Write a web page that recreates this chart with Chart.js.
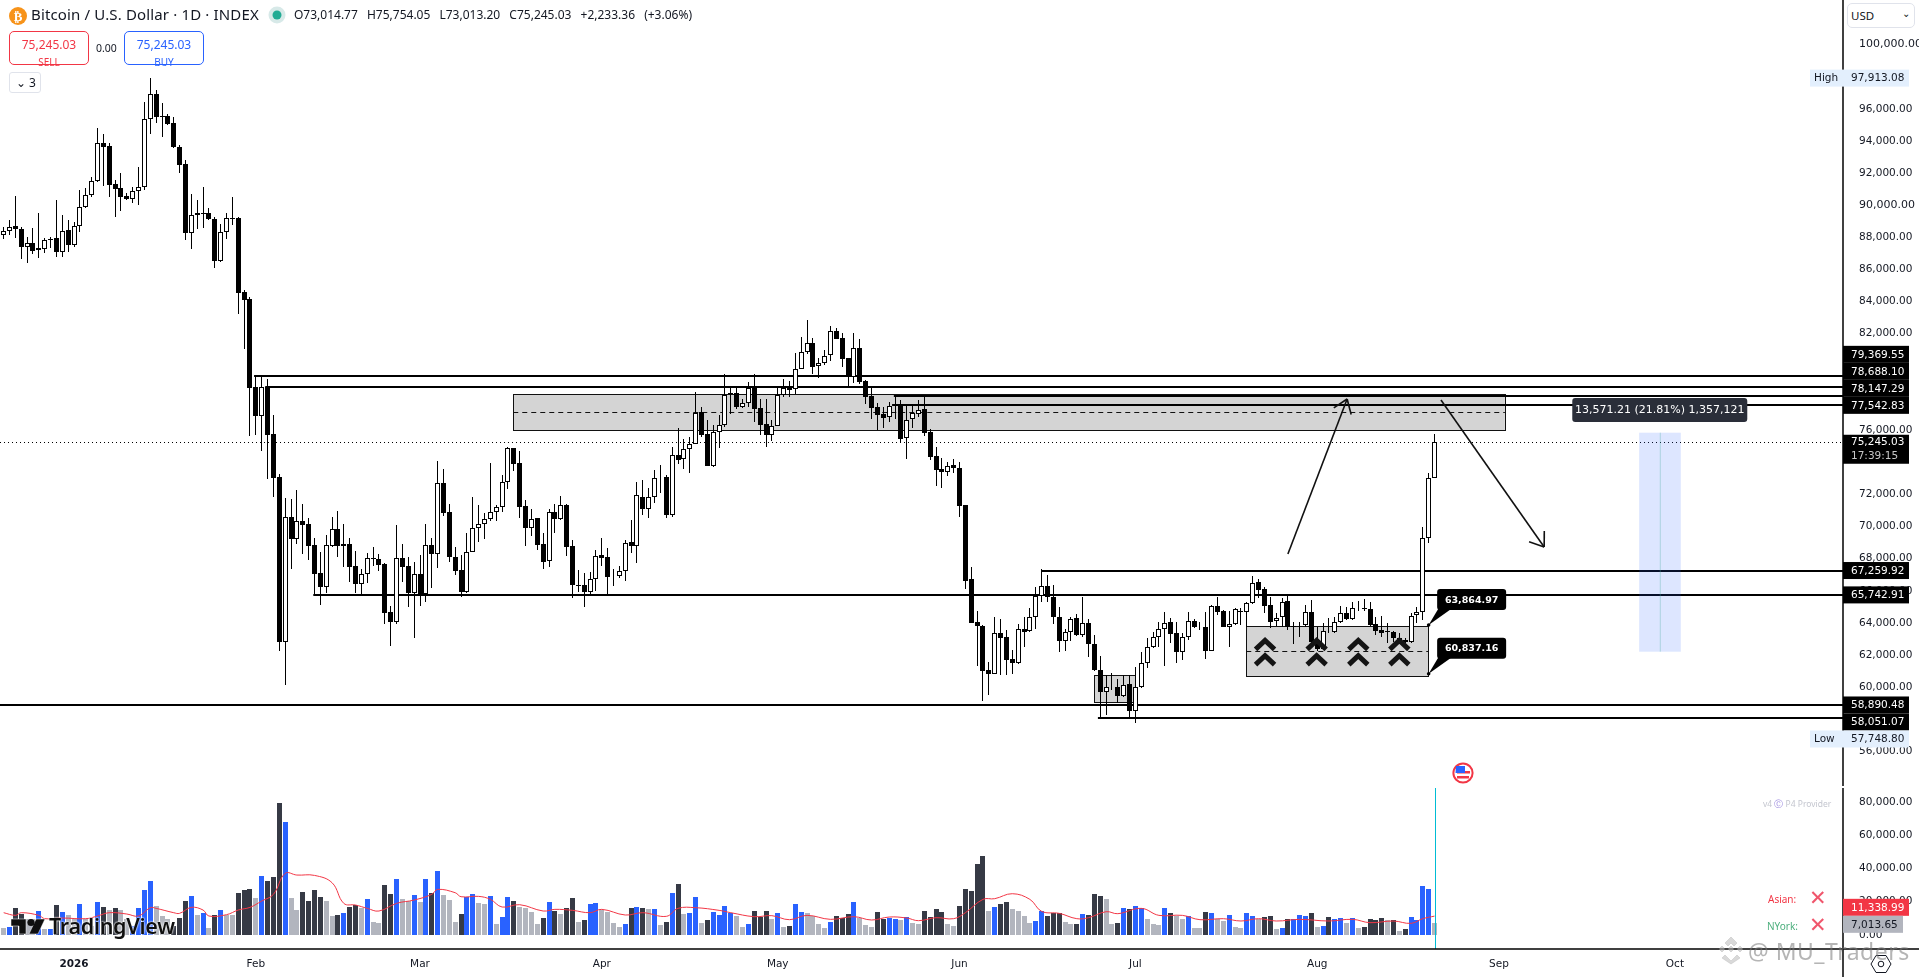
<!DOCTYPE html>
<html>
<head>
<meta charset="utf-8">
<title>Bitcoin / U.S. Dollar 1D</title>
<script src="https://cdn.jsdelivr.net/npm/chart.js@4"></script>
<style>
  html, body { margin: 0; padding: 0; background: #fff; overflow: hidden; }
  #wrap { position: relative; width: 1919px; height: 977px; font-family: "Noto Sans", sans-serif; color: #131722; }
  canvas { position: absolute; left: 0; top: 0; }
  .t { position: absolute; white-space: nowrap; line-height: 1; }
  .btn { position: absolute; box-sizing: border-box; border-radius: 5px; background: #fff; text-align: center; }
  .btn b { display: block; font-weight: 400; font-size: 12px; margin-top: 4px; }
  .btn i { display: block; font-style: normal; font-size: 10px; margin-top: 2px; }
</style>
</head>
<body>
<div id="wrap">
  <canvas id="c" width="1919" height="977"></canvas>

  <svg style="position:absolute;left:8px;top:6px" width="20" height="20"><circle cx="10" cy="10" r="9" fill="#f7931a"/><text x="10" y="14.5" font-size="13" font-weight="700" text-anchor="middle" fill="#fff" font-family="DejaVu Sans">₿</text></svg>
  <div class="t" style="left:31px;top:7px;font-size:15px;letter-spacing:.15px">Bitcoin / U.S. Dollar · 1D · INDEX</div>
  <svg style="position:absolute;left:268px;top:6px" width="18" height="18"><circle cx="9" cy="9" r="8.5" fill="#d7e9e8"/><circle cx="9" cy="9" r="4.5" fill="#22ab94"/></svg>
  <div class="t" style="left:294px;top:9px;font-size:12px;word-spacing:6px">O73,014.77 H75,754.05 L73,013.20 C75,245.03 +2,233.36 (+3.06%)</div>

  <div class="btn" style="left:9px;top:31px;width:80px;height:34px;border:1px solid #f23645;color:#f23645"><b>75,245.03</b><i>SELL</i></div>
  <div class="t" style="left:96px;top:43px;font-size:10.5px">0.00</div>
  <div class="btn" style="left:124px;top:31px;width:80px;height:34px;border:1px solid #2962ff;color:#2962ff"><b>75,245.03</b><i>BUY</i></div>
  <div class="btn" style="left:9px;top:72px;width:32px;height:21px;border:1px solid #e0e3eb;border-radius:3px;font-size:12px;line-height:20px;text-align:left;padding-left:6px">⌄&nbsp;3</div>

  <div class="btn" style="left:1847px;top:3px;width:68px;height:25px;border:1px solid #e0e3eb;font-size:11.5px;line-height:23px;text-align:left;padding-left:3px;color:#131722;z-index:2">USD<span style="position:absolute;right:4px;top:-2px;font-size:10px">⌄</span></div>

  <svg style="position:absolute;left:11px;top:918px;z-index:2" width="36" height="17"><path d="M0 1h15v15H8V8H0zM18 16l7-15h9l-7 15z" fill="#0f0f0f" stroke="#fff" stroke-width="0.5"/><circle cx="20" cy="4.5" r="3.6" fill="#0f0f0f"/></svg>
  <div class="t" style="left:49px;top:915px;font-size:21.5px;font-weight:600;letter-spacing:-0.3px;color:#0f0f0f;text-shadow:0 0 2px #fff,0 0 2px #fff;z-index:2">TradingView</div>

  <div class="t" style="left:1763px;top:800px;font-size:8.5px;color:#c4c6cf">v4 <span style="color:#9b8ade">Ⓒ</span> P4 Provider</div>
  <div class="t" style="left:1768px;top:894px;font-size:10px;color:#f23645">Asian:</div>
  <div class="t" style="left:1767px;top:921px;font-size:10px;color:#4caf7d">NYork:</div>
  <div class="t" style="left:1809px;top:888px;font-size:21px;font-weight:700;color:#f0566c;font-family:'DejaVu Sans'">✕</div>
  <div class="t" style="left:1809px;top:915px;font-size:21px;font-weight:700;color:#f0566c;font-family:'DejaVu Sans'">✕</div>

  <svg style="position:absolute;left:1452px;top:762px" width="24" height="24"><circle cx="11" cy="11" r="9.6" fill="#fff" stroke="#f23645" stroke-width="2"/><rect x="5" y="9" width="13" height="2.5" fill="#f23645"/><rect x="5" y="14" width="12" height="2.5" fill="#f23645"/><path d="M4 4h9v7H3.5z" fill="#2962ff"/></svg>
  <svg style="position:absolute;left:1870px;top:952px;z-index:2" width="24" height="24"><path d="M6 3.5h10l5 8.5-5 8.5H6L1 12z" fill="#fff" stroke="#131722" stroke-width="1"/><circle cx="11" cy="12" r="2.8" fill="none" stroke="#131722"/></svg>

  <svg style="position:absolute;left:1716px;top:935px;z-index:3;opacity:.55" width="30" height="30"><path d="M15 2l6 6-3 3-3-3-3 3-3-3zM6 11l3 3-3 3-3-3zM24 11l3 3-3 3-3-3zM15 11l3 3-3 3-3-3zM9 20l6 6 6-6 3 3-9 6-9-6z" fill="#bbb" stroke="#888" stroke-width="0.5"/></svg>
  <div class="t" style="left:1748px;top:940px;font-size:23px;color:rgba(120,120,120,.55);z-index:3;letter-spacing:.5px">@ MU_Traders</div>
</div>

<script>
// bar index 12 = 1 Jan 2026, last bar = 21 Aug 2026
const monthBars = [12, 43, 71, 102, 132, 163, 193, 224, 255, 285];
const monthLabels = ['2026', 'Feb', 'Mar', 'Apr', 'May', 'Jun', 'Jul', 'Aug', 'Sep', 'Oct'];
const priceTicks = [100000, 96000, 94000, 92000, 90000, 88000, 86000, 84000, 82000, 76000, 72000, 70000, 68000, 66000, 64000, 62000, 60000, 56000];
const volumeTicks = [0, 20000, 40000, 60000, 80000];

const candleOpen = [
  88125,88375,88685,88540,87420,87630,87190,87295,87855,87940,
  87110,88455,87525,88725,89910,90615,91490,93850,93685,91320,
  91050,90575,90410,90905,91155,95345,96905,95560,95555,95100,
  93625,92565,88290,89370,89515,89495,89140,86550,88310,89205,
  89205,84600,84140,78685,76900,78685,75740,73060,62830,70570,
  69245,70320,70155,68830,67085,66215,68810,69825,68890,68890,
  67540,66440,67025,67980,67955,67645,64655,64075,68020,67520,
  65880,67025,65800,68830,68310,72690,70880,68100,67270,65945,
  68435,69930,70175,70490,70925,71195,72790,74865,73930,71255,
  69930,70510,68890,67875,70880,70490,71320,68765,66360,66340,
  65945,66755,68205,68080,66900,66940,67250,69015,68810,71860,
  71070,71815,73050,73060,70740,74430,74180,74805,75155,77105,
  75760,73785,75860,76340,78290,78290,77460,77670,78665,77380,
  76360,75695,76280,78205,78665,78540,79825,80885,81400,80010,
  80200,80655,82150,81715,80470,79285,81090,79035,78100,77420,
  76980,76800,77565,77545,75490,76670,77025,77295,75860,74390,
  73560,73370,73810,73620,71320,66710,64035,63805,61045,60840,
  63350,63100,61730,61480,63600,63515,64390,65695,66275,65590,
  64390,62895,63455,64285,63225,63970,62665,61065,59720,59990,
  59990,59470,60175,58535,59990,61480,62520,63100,63600,64035,
  63350,62210,63140,64140,63765,63725,62270,65050,64720,63765,
  63910,64760,64700,65220,66525,66090,65115,64120,64345,65360,
  63725,63950,63870,64700,62935,62355,63840,63450,64075,64595,
  64220,64905,64925,64865,63910,63535,63490,63450,63080,62935,
  62830,64490,64700,69305,73014.77
];
const candleHigh = [
  88665,89080,90575,88665,88000,88560,89495,87940,88000,90325,
  89390,89080,88975,90950,91050,91780,94785,94415,93850,91570,
  91985,90780,91155,92400,96445,97913.08,97170,96340,95660,95515,
  93730,92815,90700,90325,91155,89805,89245,88830,89495,90530,
  89285,84700,84300,79370,79370,79160,76940,73270,71775,71710,
  72270,71400,70510,69265,68435,69470,70590,70965,70155,69285,
  68475,67335,68330,68725,68290,67710,65050,70095,68910,68120,
  67810,68205,70155,69305,74055,73580,71380,68745,68205,69615,
  71835,71340,70820,73930,71340,73205,74930,74900,74700,71650,
  71090,70510,69595,71090,71400,71900,71400,69160,67290,67085,
  67190,68535,69265,68640,67335,67540,69160,70405,72750,72895,
  72375,73520,73830,73205,74930,76110,75425,75590,78350,77420,
  76630,76320,76940,79475,78600,78640,77915,78975,79475,77960,
  77935,76630,78665,79160,79035,80780,81820,82855,81755,80470,
  80990,82480,82355,82025,80470,82025,81650,79120,78665,77670,
  77420,77770,78185,77875,77500,77500,77875,78040,76050,74970,
  74285,74035,74180,73995,71330,67500,64740,63870,61565,64390,
  64240,63560,62310,63930,64390,64905,66255,67335,66980,66360,
  65010,63600,64390,64555,65590,64240,63245,61940,60755,60860,
  60485,60755,60755,61275,62165,63040,63455,64075,64660,64285,
  64075,63350,64660,64220,64075,64660,65115,65590,64800,64740,
  64905,64905,65320,66940,66730,66255,65630,64595,65530,65675,
  64075,64075,65115,65425,63765,63970,64285,64385,65050,64970,
  65320,65385,65465,65320,64385,64430,63970,63515,63390,63040,
  64595,65010,69990,73350,75754.05
];
const candleLow = [
  87875,88145,87940,86630,86380,86965,86695,87005,87315,86800,
  86800,87110,87420,88355,89805,90535,91465,91195,90530,89290,
  89660,90325,90160,90035,90950,94435,95140,94270,94995,93585,
  91985,87835,87255,88500,88560,89080,86070,86485,87875,88770,
  83230,81050,75635,75700,74720,72960,71860,62270,60135,67355,
  68910,68290,67915,65735,65115,65840,68705,68120,67500,66565,
  65840,65735,66460,67560,67230,63930,62580,63930,66565,65010,
  63080,65050,65320,66150,67440,70655,67810,66980,65630,65880,
  68435,69055,69220,70365,70365,70905,72335,73455,70530,68785,
  69430,68540,67355,67500,69575,70405,68165,65570,65925,65010,
  65800,66005,67540,65735,66295,66815,66630,68370,67710,70715,
  70510,71440,72065,70550,70610,73890,73560,73350,75135,75550,
  73765,73725,74865,76215,77005,77315,77355,77420,76525,75695,
  74970,75325,76255,78080,78080,78225,79825,80740,79495,79265,
  80055,80325,81650,79950,78745,78955,78870,77625,76670,76010,
  76110,76485,76670,75280,74225,76110,76835,75635,74140,72520,
  72395,73145,73310,70610,66130,64010,61315,59135,59510,60800,
  60755,60755,60820,61440,62520,63410,63620,65320,65320,63910,
  62210,62270,62895,63185,63140,61900,61025,58100,58265,59820,
  58995,59410,58060,57748.8,59930,61215,62420,62520,61340,62730,
  61525,61690,62935,63660,63560,61750,62250,64490,63725,62520,
  63870,63870,63765,65180,65570,64595,63700,63805,63765,63555,
  62685,63140,63765,62730,62270,62315,63350,63390,64015,64180,
  64180,64760,64760,63805,63245,63140,62730,62830,62730,62730,
  62770,63970,64180,68950,73013.2
];
const candleClose = [
  88375,88665,88540,87420,87630,87170,87315,87815,87895,87110,
  88415,87525,88725,89910,90615,91490,93850,93645,91260,91030,
  90530,90410,90865,91155,95345,96905,95510,95490,95055,93645,
  92525,88290,89370,89495,89475,89120,86550,88310,89185,89165,
  84560,84100,78640,76900,78685,75700,73040,62830,70570,69245,
  70320,70115,68810,67045,66255,68830,69825,68810,68810,67500,
  66440,67025,68020,68060,67605,64635,64075,68020,67500,65880,
  67025,65800,68830,68310,72690,70860,68120,67250,65945,68435,
  69930,70175,70490,70925,71195,72790,74865,73910,71235,69930,
  70490,68850,67810,70880,70490,71320,68745,66360,66270,65945,
  66710,68185,68060,66880,66920,67250,68995,68810,71940,71070,
  71815,73000,72990,70740,74430,74160,74805,75155,77085,75715,
  73785,75860,76340,78205,78225,77440,77670,78640,77335,76320,
  75695,76280,78205,78640,78500,79825,80885,81400,79950,80160,
  80635,82150,81695,80450,79285,81090,79015,78080,77400,76960,
  76775,77525,77500,75470,76650,77045,77275,75840,74350,73540,
  73370,73785,73620,71295,66630,64015,63825,61025,60840,63350,
  63080,61690,61480,63600,63455,64390,65695,66275,65590,64390,
  62895,63455,64220,63225,63970,62665,61045,59720,60030,60010,
  59470,60155,58535,59990,61480,62520,63100,63600,64015,63330,
  62210,63140,64140,63765,63745,62270,65050,64700,63765,63910,
  64845,64700,65220,66505,66050,65070,64035,64325,65320,63725,
  63830,63910,64700,62830,62355,63515,63900,64075,64595,64220,
  64905,64925,64885,63870,63515,63390,63450,63040,62830,62830,
  64450,64700,69305,73000,75245.03
];

const volumes = [
  4000,5000,16000,12400,9400,9400,14200,3400,3400,17800,
  13600,11800,9400,18400,9400,5400,19600,16600,14800,16000,
  14800,9400,5400,16000,26800,32200,17200,11200,9400,5200,
  10000,20200,23200,11800,13000,4000,11800,14800,11800,11800,
  25000,26800,27400,22000,35200,32200,34600,79000,67600,22000,
  14800,25600,20200,26800,22600,20200,11200,11800,13000,16600,
  17800,16000,21400,7600,7000,29800,24400,33400,21400,20200,
  23800,19600,33400,25000,38200,23800,20800,7600,12400,22600,
  24400,19000,18400,23200,6400,10600,22600,20200,16600,16000,
  13600,6400,10000,19600,14200,12400,16000,22000,7600,8800,
  18400,19000,14800,13600,7000,4600,6400,16000,16600,16000,
  15400,15400,5800,7600,25000,30400,12400,13000,22600,7000,
  8800,13600,11800,17200,13000,11200,4600,6400,14200,10600,
  14200,9400,13000,4600,5200,18400,13600,13000,11200,6400,
  4000,7600,11200,10000,12400,19600,10000,5800,4600,13600,
  9400,10000,9400,8800,10600,7000,6400,14200,10600,15400,
  13600,6400,5200,17200,27400,26200,42400,47200,14200,16600,
  18400,19600,15400,14200,11200,7000,8200,14200,11200,13000,
  13000,7600,6400,6400,12400,11800,24400,23200,21400,6400,
  7000,16000,15400,17200,16000,9400,6400,5800,16000,13000,
  11200,9400,11200,4000,4000,13600,13000,9400,8200,11800,
  4600,4000,13000,11200,9400,10600,11200,3400,4000,9400,
  9400,11800,11200,13000,4600,5200,10600,9400,10000,7000,
  10000,4000,4600,9400,8800,10000,8800,8800,2200,3400,
  10600,8800,29200,27400,7013.65
];
// d = heavy down, b = heavy up, g = quiet day
const volumeKinds = (
  'gbddggbgbd' + 'bggbggbdgd' + 'ggbbbbgggd' + 'ddbgbgdbgg' + 'dddgbdddbg' +
  'gddddggdbd' + 'dgbggddbgg' + 'bgbdbgggdb' + 'bggbgbbdgg' + 'ggdbdgddgd' +
  'bbggggbdbd' + 'gbgdbdgbbg' + 'dbbbbggbdd' + 'dgbgdbbggg' + 'gbdddbgggd' +
  'dbbgbggddd' + 'dggdddddgb' + 'ddggggbbdd' + 'dggdbdddgg' + 'dbdbbgggbd' +
  'ggbggdbggb' + 'ggbbgddgbd' + 'bbbdgbdbbg' + 'bgddddgdgd' + 'bbbbg'
).split('');

const maBars = [0,2,3,6,7,10,14,16,18,21,23,25,26,29,30,32,34,35,38,40,42,44,46,48,50,53,56,58,60,62,64,67,70,73,74,77,78,81,83,85,88,92,94,97,100,102,106,109,113,115,118,122,124,128,131,134,137,141,145,148,151,154,156,159,162,164,167,169,172,175,177,180,183,185,188,190,194,197,201,204,208,211,214,217,221,226,230,233,237,240,242,244];
const maValues = [13400,11800,13400,11800,9800,10200,9800,11400,13400,12600,11400,16400,16000,13400,13000,16600,15000,11400,12200,15000,16600,20400,24400,37000,36000,35800,31400,19000,18000,16000,14400,19000,21000,24400,27400,25400,23000,23200,21400,16800,18200,14400,15400,14800,13400,15400,12000,13400,11200,16000,16400,14800,13400,11000,11600,9200,11800,9400,11000,9000,10800,10200,8600,10400,9800,13400,21400,21800,24800,21400,14200,13000,9800,10400,14000,12800,16000,11800,11800,9200,9800,8400,9800,8400,9400,8400,9400,7400,8400,7000,9800,11338.99];

// drawing tools on the chart
const levelPrices = [79369.55, 78688.10, 78147.29, 77542.83, 67259.92, 65742.91, 58890.48, 58051.07];
const levelStartBars = [42.7, 44.6, 151.8, 151.5, 176.9, 52.8, -1, 186.6];
const zoneLeft = [86.9, 186, 211.9];
const zoneRight = [256, 193, 242.9];
const zoneTop = [78228, 60735, 63786];
const zoneBottom = [75987, 59034, 60694];
const zoneMid = [77107, null, 62250];
const chevronBars = [215.1, 223.9, 231, 238];
const chevronPrices = [63100, 62146];
const arrowFrom = [[219, 68289], [245.1, 77875]];
const arrowTo = [[229.1, 77938], [262.7, 68725]];
const measureBars = [278.9, 282.5, 286];
const measurePrices = [75840, 62207];
const tagPrices = [63864.97, 60837.16];
const lastBar = 244;
const lastPrice = 75245.03;
const lastVolume = 7013.65;
const lastMa = 11338.99;
const highPrice = 97913.08;
const lowPrice = 57748.80;

const money = v => v.toLocaleString('en-US', { minimumFractionDigits: 2, maximumFractionDigits: 2 });
const bars = candleOpen.map((_, i) => i);
const AXIS_FONT = '10.5px "DejaVu Sans"';

function line(ctx, x1, y1, x2, y2) {
  ctx.beginPath();
  ctx.moveTo(x1, y1);
  ctx.lineTo(x2, y2);
  ctx.stroke();
}

function priceBadge(ctx, text, y, bg, fg, right) {
  ctx.fillStyle = bg;
  ctx.fillRect(1843, y - 8.5, (right || 1909) - 1843, 17);
  ctx.fillStyle = fg;
  ctx.font = AXIS_FONT;
  ctx.textAlign = 'left';
  ctx.textBaseline = 'middle';
  ctx.fillText(text, 1851, y + 0.5);
}

// keep axes from reserving room for half a tick label
function noPadding(axis) {
  axis.paddingTop = 0;
  axis.paddingBottom = 0;
  axis.paddingLeft = 0;
  axis.paddingRight = 0;
}

// snap bars to whole pixels so wicks and bodies stay sharp
const crispBars = {
  id: 'crispBars',
  beforeDatasetsDraw(chart) {
    chart.data.datasets.forEach((ds, i) => {
      if (ds.type === 'line') return;
      chart.getDatasetMeta(i).data.forEach(el => {
        el.x = Math.floor(el.x) + 0.5;
        el.y = Math.round(el.y);
        el.base = Math.round(el.base);
      });
    });
  }
};

const underCandles = {
  id: 'underCandles',
  beforeDatasetsDraw(chart) {
    const { ctx, scales } = chart;
    const px = v => scales.x.getPixelForValue(v);
    const py = v => scales.y.getPixelForValue(v);
    ctx.save();

    zoneTop.forEach((top, i) => {
      const x = px(zoneLeft[i]), w = px(zoneRight[i]) - x;
      ctx.fillStyle = '#d4d4d4';
      ctx.fillRect(x, py(top), w, py(zoneBottom[i]) - py(top));
      ctx.strokeStyle = '#111';
      ctx.lineWidth = 1;
      ctx.strokeRect(Math.round(x) + 0.5, Math.round(py(top)) + 0.5, Math.round(w), Math.round(py(zoneBottom[i]) - py(top)));
      if (zoneMid[i]) {
        ctx.setLineDash([5, 4]);
        line(ctx, x, Math.round(py(zoneMid[i])) + 0.5, x + w, Math.round(py(zoneMid[i])) + 0.5);
        ctx.setLineDash([]);
      }
    });

    ctx.strokeStyle = '#000';
    ctx.lineWidth = 2;
    levelPrices.forEach((p, i) => {
      const y = Math.round(py(p));
      line(ctx, Math.max(px(levelStartBars[i]), 0), y, 1843, y);
    });

    ctx.lineWidth = 1;
    ctx.setLineDash([1, 3]);
    const ly = Math.round(py(lastPrice)) + 0.5;
    line(ctx, 0, ly, 1843, ly);
    ctx.setLineDash([]);

    const mx = px(measureBars[0]), mw = px(measureBars[2]) - mx;
    ctx.fillStyle = 'rgba(41,98,255,0.16)';
    ctx.fillRect(mx, py(measurePrices[0]), mw, py(measurePrices[1]) - py(measurePrices[0]));
    ctx.strokeStyle = 'rgba(76,175,160,0.35)';
    line(ctx, px(measureBars[1]), py(measurePrices[0]), px(measureBars[1]), py(measurePrices[1]));
    ctx.restore();
  }
};

const overCandles = {
  id: 'overCandles',
  afterDatasetsDraw(chart) {
    const { ctx, scales } = chart;
    const px = v => scales.x.getPixelForValue(v);
    const py = v => scales.y.getPixelForValue(v);
    const vy = v => scales.yVol.getPixelForValue(v);
    ctx.save();

    // double chevrons in the lower zone
    ctx.strokeStyle = '#141414';
    ctx.lineWidth = 5;
    ctx.lineJoin = 'miter';
    chevronBars.forEach(b => {
      chevronPrices.forEach(p => {
        const x = px(b), y = py(p);
        ctx.beginPath();
        ctx.moveTo(x - 9.5, y + 12);
        ctx.lineTo(x, y + 3);
        ctx.lineTo(x + 9.5, y + 12);
        ctx.stroke();
      });
    });

    // projected path arrows
    ctx.strokeStyle = '#111';
    ctx.lineWidth = 1.6;
    arrowFrom.forEach((from, i) => {
      const x1 = px(from[0]), y1 = py(from[1]), x2 = px(arrowTo[i][0]), y2 = py(arrowTo[i][1]);
      line(ctx, x1, y1, x2, y2);
      const a = Math.atan2(y2 - y1, x2 - x1);
      [-0.62, 0.62].forEach(d => line(ctx, x2, y2, x2 - 16 * Math.cos(a + d), y2 - 16 * Math.sin(a + d)));
    });

    // price tags on the zone corners
    tagPrices.forEach(p => {
      const ax = px(lastBar - 1), ay = py(p);
      const x = ax + 8.5, y = ay - 36, w = 69, h = 21;
      ctx.fillStyle = '#000';
      ctx.beginPath();
      ctx.roundRect(x, y, w, h, 3);
      ctx.fill();
      ctx.beginPath();
      ctx.moveTo(x + 1, y + h - 1);
      ctx.lineTo(x + 14, y + h - 1);
      ctx.lineTo(ax, ay);
      ctx.closePath();
      ctx.fill();
      ctx.beginPath();
      ctx.arc(ax, ay, 1.8, 0, Math.PI * 2);
      ctx.fill();
      ctx.fillStyle = '#fff';
      ctx.font = 'bold 9.5px "DejaVu Sans"';
      ctx.textAlign = 'center';
      ctx.textBaseline = 'middle';
      ctx.fillText(money(p), x + w / 2, y + h / 2 + 0.5);
    });

    // measure label
    const cx = px(measureBars[1]);
    ctx.fillStyle = '#2a2e39';
    ctx.beginPath();
    ctx.roundRect(cx - 88, 398, 175, 24, 3);
    ctx.fill();
    ctx.fillStyle = '#fff';
    ctx.font = '11px "DejaVu Sans"';
    ctx.textAlign = 'center';
    ctx.textBaseline = 'middle';
    ctx.fillText('13,571.21 (21.81%) 1,357,121', cx - 0.5, 410.5);

    // last bar session marker
    ctx.strokeStyle = '#00bcd4';
    ctx.lineWidth = 1;
    line(ctx, Math.round(px(lastBar)) + 0.5, 788, Math.round(px(lastBar)) + 0.5, 949);

    // axis frame
    ctx.strokeStyle = '#000';
    ctx.lineWidth = 1.5;
    line(ctx, 0, 949, 1919, 949);
    line(ctx, 1843, 0, 1843, 786);
    line(ctx, 1843, 788, 1843, 977);

    // axis badges, stacked so they do not overlap
    const upper = [levelPrices[3], levelPrices[2], levelPrices[1], levelPrices[0]];
    let prev = Infinity;
    upper.forEach(p => {
      const y = Math.min(py(p), prev - 17);
      priceBadge(ctx, money(p), y, '#000', '#fff');
      prev = y;
    });
    priceBadge(ctx, money(levelPrices[4]), py(levelPrices[4]), '#000', '#fff');
    priceBadge(ctx, money(levelPrices[5]), py(levelPrices[5]), '#000', '#fff');

    const y58 = py(levelPrices[6]);
    const y58b = Math.max(py(levelPrices[7]), y58 + 17);
    const yLow = Math.max(py(lowPrice), y58b + 17);
    priceBadge(ctx, money(levelPrices[6]), y58, '#000', '#fff');
    priceBadge(ctx, money(levelPrices[7]), y58b, '#000', '#fff');

    [[highPrice, py(highPrice), 'High'], [lowPrice, yLow, 'Low']].forEach(([p, y, label]) => {
      ctx.fillStyle = '#e3effd';
      ctx.fillRect(1810, y - 8.5, 99, 17);
      ctx.fillStyle = '#131722';
      ctx.font = AXIS_FONT;
      ctx.textAlign = 'left';
      ctx.textBaseline = 'middle';
      ctx.fillText(label, 1814, y + 0.5);
      ctx.fillText(money(p), 1851, y + 0.5);
    });

    // last price with countdown
    const yLast = py(lastPrice);
    ctx.fillStyle = '#000';
    ctx.fillRect(1843, yLast - 7.5, 66, 29);
    ctx.fillStyle = '#fff';
    ctx.font = AXIS_FONT;
    ctx.textAlign = 'left';
    ctx.textBaseline = 'middle';
    ctx.fillText(money(lastPrice), 1851, yLast + 0.5);
    ctx.fillStyle = '#c8c8c8';
    ctx.fillText('17:39:15', 1851, yLast + 14);

    const yVolLabel = vy(lastVolume) + 1;
    priceBadge(ctx, money(lastMa), Math.min(vy(lastMa), yVolLabel - 17), '#f23645', '#fff');
    priceBadge(ctx, money(lastVolume), yVolLabel, '#b2b5be', '#131722', 1903);
    ctx.restore();
  }
};

new Chart(document.getElementById('c'), {
  type: 'bar',
  data: {
    datasets: [
      {
        type: 'line',
        data: maBars.map((b, i) => ({ x: b, y: maValues[i] })),
        yAxisID: 'yVol',
        borderColor: '#f23645',
        borderWidth: 1,
        pointRadius: 0,
        tension: 0.4,
        order: 0
      },
      {
        data: bars.map(i => ({ x: i, y: [candleOpen[i], candleClose[i]] })),
        yAxisID: 'y',
        barThickness: 5,
        borderWidth: 1,
        borderColor: '#000',
        borderSkipped: false,
        inflateAmount: 0,
        backgroundColor: bars.map(i => candleClose[i] >= candleOpen[i] ? '#fff' : '#000'),
        grouped: false,
        order: 1
      },
      {
        data: bars.map(i => ({ x: i, y: [candleLow[i], candleHigh[i]] })),
        yAxisID: 'y',
        barThickness: 1,
        inflateAmount: 0,
        backgroundColor: '#000',
        grouped: false,
        order: 2
      },
      {
        data: bars.map(i => ({ x: i, y: volumes[i] })),
        yAxisID: 'yVol',
        barThickness: 5,
        inflateAmount: 0,
        backgroundColor: bars.map(i => ({ d: '#363a45', b: '#2962ff', g: '#b2b5be' })[volumeKinds[i]]),
        grouped: false,
        order: 3
      }
    ]
  },
  options: {
    responsive: false,
    animation: false,
    devicePixelRatio: 1,
    layout: { padding: 0 },
    plugins: { legend: { display: false }, tooltip: { enabled: false } },
    events: [],
    scales: {
      x: {
        type: 'linear',
        offset: false,
        min: -0.626,
        max: 313.66,
        grid: { display: false },
        border: { display: false },
        afterBuildTicks: axis => { axis.ticks = monthBars.map(v => ({ value: v })); },
        afterFit: axis => { axis.height = 28; noPadding(axis); },
        ticks: {
          autoSkip: false,
          maxRotation: 0,
          padding: 1,
          color: '#131722',
          font: ctx => ({ family: 'DejaVu Sans', size: 10.5, weight: ctx.tick && ctx.tick.value === monthBars[0] ? 'bold' : 'normal' }),
          callback: v => monthLabels[monthBars.indexOf(v)]
        }
      },
      y: {
        position: 'right',
        stack: 'panes',
        stackWeight: 787,
        weight: 1,
        min: 53785,
        max: 102775,
        grid: { display: false },
        border: { display: false },
        afterBuildTicks: axis => { axis.ticks = priceTicks.map(v => ({ value: v })); },
        afterFit: axis => { axis.width = 76; noPadding(axis); },
        ticks: {
          autoSkip: false,
          crossAlign: 'near',
          padding: 8,
          color: '#131722',
          font: ctx => ({ family: 'DejaVu Sans', size: ctx.tick && ctx.tick.value % 10000 === 0 && ctx.tick.value >= 90000 ? 11 : 10.5 }),
          callback: v => money(v)
        }
      },
      yVol: {
        position: 'right',
        stack: 'panes',
        stackWeight: 162,
        weight: 2,
        min: -8408,
        max: 88888,
        grid: { display: false },
        border: { display: false },
        afterBuildTicks: axis => { axis.ticks = volumeTicks.map(v => ({ value: v })); },
        afterFit: axis => { axis.width = 76; noPadding(axis); },
        ticks: {
          autoSkip: false,
          crossAlign: 'near',
          padding: 8,
          color: '#131722',
          font: { family: 'DejaVu Sans', size: 10.5 },
          callback: v => money(v)
        }
      }
    }
  },
  plugins: [crispBars, underCandles, overCandles]
});
</script>
</body>
</html>
